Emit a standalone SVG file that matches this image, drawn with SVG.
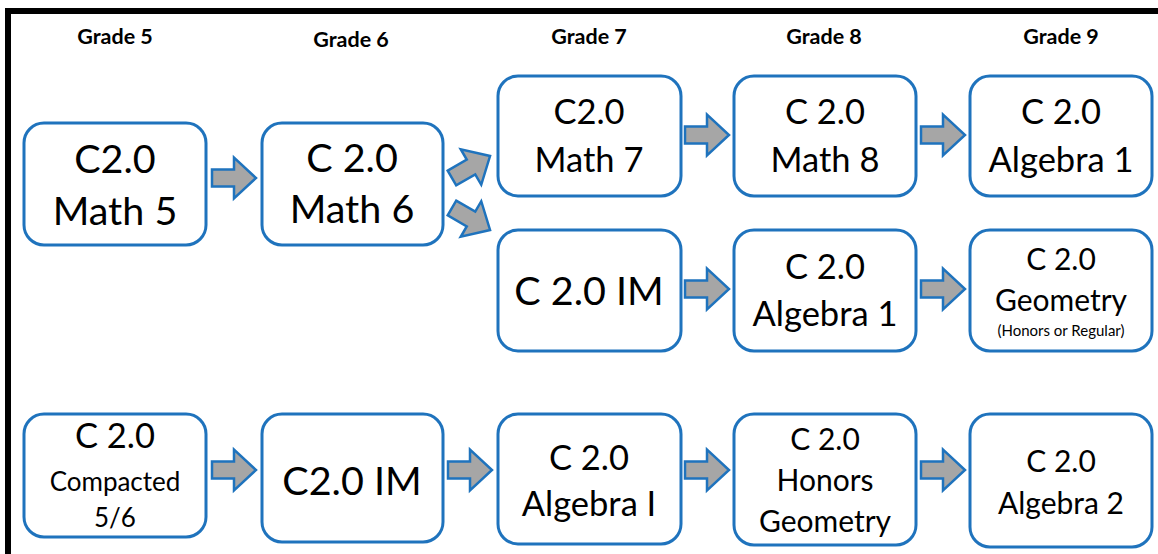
<svg xmlns="http://www.w3.org/2000/svg" width="1158" height="554" viewBox="0 0 1158 554">
<style>
.box{fill:#fff;stroke:#1F73BD;stroke-width:3}
.arr{fill:#A6A6A6;stroke:#1F73BD;stroke-width:2.5;stroke-linejoin:miter}
text{font-family:Lato,"Liberation Sans",sans-serif;fill:#000;text-anchor:middle}
.hd{font-weight:bold;font-size:21.5px}
.xl{font-size:39.5px}
.l{font-size:34.5px}
.m{font-size:30px}
.s{font-size:26px}
.xs{font-size:15px}
</style>
<defs>
<path id="a" d="M-22,-8.5 H0 V-20.5 L22,0 L0,20.5 V8.5 H-22 Z"/>
</defs>
<rect x="0" y="0" width="1158" height="554" fill="#fff"/>
<path d="M8,554 V11 H1158" fill="none" stroke="#000" stroke-width="6"/>
<g id="headers">
<text class="hd" x="115" y="44">Grade 5</text>
<text class="hd" x="351" y="47">Grade 6</text>
<text class="hd" x="589" y="44">Grade 7</text>
<text class="hd" x="824" y="44">Grade 8</text>
<text class="hd" x="1061" y="44">Grade 9</text>
</g>
<g id="connectors">
<use href="#a" class="arr" transform="translate(234,178)"/>
<use href="#a" class="arr" transform="translate(471,167) rotate(-30)"/>
<use href="#a" class="arr" transform="translate(471,219) rotate(30)"/>
<use href="#a" class="arr" transform="translate(707,135)"/>
<use href="#a" class="arr" transform="translate(943,135)"/>
<use href="#a" class="arr" transform="translate(707,289)"/>
<use href="#a" class="arr" transform="translate(943,289)"/>
<use href="#a" class="arr" transform="translate(234,470)"/>
<use href="#a" class="arr" transform="translate(470,470)"/>
<use href="#a" class="arr" transform="translate(707,470)"/>
<use href="#a" class="arr" transform="translate(943,470)"/>
</g>
<g id="n-math5"><rect class="box" x="24" y="123" width="182" height="122" rx="20"/>
<text class="xl" x="115" y="173">C2.0</text><text class="xl" x="115" y="225">Math 5</text></g>
<g id="n-math6"><rect class="box" x="262" y="123" width="181" height="122" rx="20"/>
<text class="xl" x="352" y="172">C 2.0</text><text class="xl" x="352" y="223">Math 6</text></g>
<g id="n-math7"><rect class="box" x="498" y="76" width="183" height="120" rx="20"/>
<text class="l" x="589" y="124">C2.0</text><text class="l" x="589" y="172">Math 7</text></g>
<g id="n-im7"><rect class="box" x="498" y="230" width="183" height="121" rx="20"/>
<text class="xl" x="589" y="305">C 2.0 IM</text></g>
<g id="n-math8"><rect class="box" x="734" y="76" width="182" height="120" rx="20"/>
<text class="l" x="825" y="124">C 2.0</text><text class="l" x="825" y="172">Math 8</text></g>
<g id="n-alg8"><rect class="box" x="734" y="230" width="182" height="121" rx="20"/>
<text class="l" x="825" y="279">C 2.0</text><text class="l" x="825" y="326">Algebra 1</text></g>
<g id="n-alg9"><rect class="box" x="970" y="76" width="182" height="120" rx="20"/>
<text class="l" x="1061" y="124">C 2.0</text><text class="l" x="1061" y="172">Algebra 1</text></g>
<g id="n-geo9"><rect class="box" x="970" y="230" width="182" height="121" rx="20"/>
<text class="m" x="1061" y="270">C 2.0</text><text class="m" x="1061" y="311">Geometry</text><text class="xs" x="1061" y="336">(Honors or Regular)</text></g>
<g id="n-comp5"><rect class="box" x="24" y="414" width="182" height="123" rx="20"/>
<text class="l" x="115" y="448">C 2.0</text><text class="s" x="115" y="491">Compacted</text><text class="s" x="115" y="527">5/6</text></g>
<g id="n-im6"><rect class="box" x="262" y="414" width="181" height="128" rx="20"/>
<text class="xl" x="352" y="495">C2.0 IM</text></g>
<g id="n-algI7"><rect class="box" x="498" y="414" width="183" height="130" rx="20"/>
<text class="l" x="589" y="470">C 2.0</text><text class="l" x="589" y="516">Algebra I</text></g>
<g id="n-hgeo8"><rect class="box" x="734" y="414" width="182" height="131" rx="20"/>
<text class="m" x="825" y="450">C 2.0</text><text class="m" x="825" y="491">Honors</text><text class="m" x="825" y="532">Geometry</text></g>
<g id="n-alg29"><rect class="box" x="970" y="414" width="182" height="133" rx="20"/>
<text class="m" x="1061" y="472">C 2.0</text><text class="m" x="1061" y="514">Algebra 2</text></g>
</svg>
